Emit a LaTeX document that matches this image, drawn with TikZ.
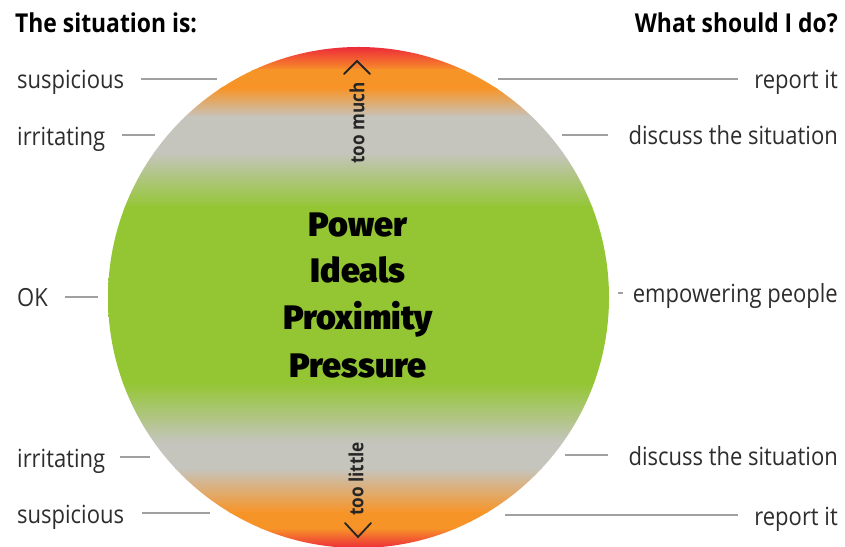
\documentclass[tikz,border=0pt]{standalone}
\usepackage{fontspec}
\setmainfont{Open Sans}[FakeStretch=0.88]
\IfFontExistsTF{Fira Sans Black}{\newfontfamily\heavy{Fira Sans Black}}{\newfontfamily\heavyraw{Fira Sans}\newcommand\heavy{\heavyraw\bfseries}}
\definecolor{cred}{RGB}{236,30,60}
\definecolor{corange}{RGB}{247,148,40}
\definecolor{cgrey}{RGB}{197,197,190}
\definecolor{cgreen}{RGB}{148,198,52}
\definecolor{lgrey}{RGB}{160,160,160}
\definecolor{labtext}{RGB}{45,45,45}
\newcommand\band[4]{\shade[top color=#3,bottom color=#4] (100,{546-#1}) rectangle (620,{546-#2-0.8});}
\tikzset{
  lab/.style={inner sep=0, text=labtext, font=\fontsize{25}{30}\selectfont},
  ttl/.style={inner sep=0, text=black, font=\bfseries\fontsize{26}{30}\selectfont},
  conn/.style={draw=lgrey, line width=1.4pt},
  big/.style={inner sep=0, text=black, font=\heavy\fontsize{34}{40}\selectfont},
  vlab/.style={inner sep=0, rotate=90, text=black!85, font=\bfseries\fontsize{19.5}{22}\selectfont},
  chev/.style={draw=black!85, line width=1.8pt, line cap=round, line join=miter},
}
\begin{document}
\begin{tikzpicture}[x=1pt,y=1pt]
\useasboundingbox (0,0) rectangle (845,546);
% circle with vertical colour bands
\coordinate (C) at (358.5,248.5);
\begin{scope}
  \clip (C) circle (250.5);
  \band{44}{70}{cred}{corange}
  \band{70}{88}{corange}{corange}
  \band{88}{117}{corange}{cgrey}
  \band{117}{152}{cgrey}{cgrey}
  \band{152}{207}{cgrey}{cgreen}
  \band{207}{383}{cgreen}{cgreen}
  \band{383}{442}{cgreen}{cgrey}
  \band{442}{468}{cgrey}{cgrey}
  \band{468}{512}{cgrey}{corange}
  \band{512}{528}{corange}{corange}
  \band{528}{550}{corange}{cred}
\end{scope}
% titles
\node[ttl, anchor=base west] (tl) at (15,513) {The situation is:};
\node[ttl, anchor=base east] (tr) at (838,513) {What should I do?};
% left labels
\node[lab, anchor=base west] (ls1) at (17,457) {suspicious};
\node[lab, anchor=base west] (li1) at (17,400) {irritating};
\node[lab, anchor=base west] (lok) at (17,239) {OK};
\node[lab, anchor=base west] (li2) at (17,79) {irritating};
\node[lab, anchor=base west] (ls2) at (17,23) {suspicious};
% right labels
\node[lab, anchor=base east] (rr1) at (838,457) {report it};
\node[lab, anchor=base east] (rd1) at (838,401) {discuss the situation};
\node[lab, anchor=base east] (re) at (838,243) {empowering people};
\node[lab, anchor=base east] (rd2) at (838,81) {discuss the situation};
\node[lab, anchor=base east] (rr2) at (838,21) {report it};
% connector end points
\coordinate (a1) at (141,467); \coordinate (b1) at (217,467);
\coordinate (a2) at (122,411); \coordinate (b2) at (155,411);
\coordinate (a3) at (65,249);  \coordinate (b3) at (98,249);
\coordinate (a4) at (120,89);  \coordinate (b4) at (150,89);
\coordinate (a5) at (142,33);  \coordinate (b5) at (210,33);
\coordinate (c1) at (498,467); \coordinate (d1) at (738,467);
\coordinate (c2) at (562,411); \coordinate (d2) at (608,411);
\coordinate (c3) at (618,253); \coordinate (d3) at (623,253);
\coordinate (c4) at (565,91);  \coordinate (d4) at (608,91);
\coordinate (c5) at (505,31);  \coordinate (d5) at (738,31);
\foreach \p/\q in {a1/b1,a2/b2,a3/b3,a4/b4,a5/b5,c1/d1,c2/d2,c3/d3,c4/d4,c5/d5}
  \draw[conn] (\p) -- (\q);
% centre words
\node[big, anchor=base] (w1) at (358,309) {Power};
\node[big, anchor=base] (w2) at (358,263) {Ideals};
\node[big, anchor=base] (w3) at (358,216) {Proximity};
\node[big, anchor=base] (w4) at (358,168) {Pressure};
% too much / too little
\node[vlab] (tm) at (357,423) {too much};
\node[vlab] (tlt) at (356,67) {too little};
\coordinate (up) at (357,485);
\coordinate (dn) at (358,9);
\draw[chev] (up) ++(-13,-13) -- (up) -- ++(13,-13);
\draw[chev] (dn) ++(-13,14) -- (dn) -- ++(13,14);
\end{tikzpicture}
\end{document}
